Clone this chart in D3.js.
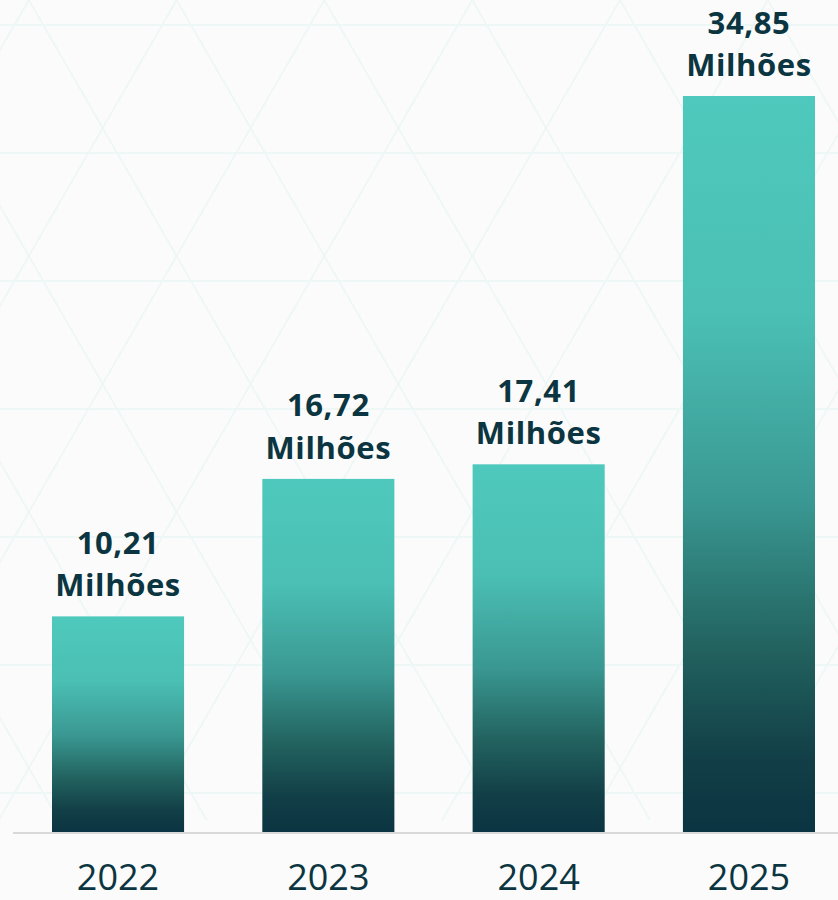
<!DOCTYPE html>
<html>
<head>
<meta charset="utf-8">
<script src="https://cdn.jsdelivr.net/npm/d3@7"></script>
<style>
  html, body { margin: 0; padding: 0; background: #fbfbfb; }
  svg { display: block; }
</style>
</head>
<body>
<svg id="chart" width="838" height="900"></svg>
<script>
const years = ["2022", "2023", "2024", "2025"];
const values = [10.21, 16.72, 17.41, 34.85];
const valueLabels = ["10,21", "16,72", "17,41", "34,85"];
const unitLabel = "Milhões";

const W = 838, H = 900;
const svg = d3.select("#chart");

// background
svg.append("rect").attr("width", W).attr("height", H).attr("fill", "#fbfbfb");

// faint triangular decorative pattern
const deco = svg.append("g").attr("stroke", "#edf7f5").attr("stroke-width", 1.8).attr("fill", "none");
const rowH = 128;
const side = rowH / (Math.sqrt(3) / 2);
for (let y = 25; y < 820; y += rowH) {
  deco.append("line").attr("x1", 0).attr("x2", W).attr("y1", y).attr("y2", y);
}
const k = Math.tan(Math.PI / 6);
for (let x0 = -H; x0 < W + H; x0 += side) {
  const xs = x0 + 42;
  deco.append("line").attr("x1", xs).attr("y1", 0).attr("x2", xs + 820 * k).attr("y2", 820);
  deco.append("line").attr("x1", xs).attr("y1", 0).attr("x2", xs - 820 * k).attr("y2", 820);
}

const x = d3.scaleBand().domain(years).range([52, 815]).paddingInner(0.372).paddingOuter(0);
const y = d3.scaleLinear().domain([0, 34.85]).range([832, 96]);

// gradient
const defs = svg.append("defs");
const grad = defs.append("linearGradient").attr("id", "barGrad")
  .attr("x1", 0).attr("y1", 0).attr("x2", 0).attr("y2", 1);
[[0, "#4fc9bd"], [0.3, "#4bbfb4"], [0.55, "#3a9892"], [0.75, "#22625f"], [0.9, "#123f47"], [1, "#0a3441"]]
  .forEach(([o, c]) => grad.append("stop").attr("offset", o).attr("stop-color", c));

const data = years.map((yr, i) => ({ year: yr, value: values[i], label: valueLabels[i] }));

svg.append("g").selectAll("rect").data(data).join("rect")
  .attr("x", d => x(d.year))
  .attr("width", x.bandwidth())
  .attr("y", d => y(d.value))
  .attr("height", d => y(0) - y(d.value))
  .attr("fill", "url(#barGrad)");

// baseline
svg.append("line").attr("x1", 13).attr("x2", W).attr("y1", 833).attr("y2", 833)
  .attr("stroke", "#d9d9d9").attr("stroke-width", 2);

// value labels
const lab = svg.append("g").attr("font-family", "'Open Sans', sans-serif")
  .attr("font-weight", 700).attr("font-size", 31).attr("letter-spacing", 0.6)
  .attr("fill", "#0b3540").attr("text-anchor", "middle");
lab.selectAll("text.v").data(data).join("text").attr("class", "v")
  .attr("x", d => x(d.year) + x.bandwidth() / 2)
  .attr("y", d => y(d.value) - 62.5)
  .text(d => d.label);
lab.selectAll("text.u").data(data).join("text").attr("class", "u")
  .attr("x", d => x(d.year) + x.bandwidth() / 2)
  .attr("y", d => y(d.value) - 20)
  .text(unitLabel);

// x axis labels
const xAxis = d3.axisBottom(x).tickSize(0).tickPadding(0);
const ax = svg.append("g").attr("transform", "translate(0,890)").call(xAxis);
ax.select(".domain").remove();
ax.selectAll("text").attr("font-family", "'Open Sans', sans-serif")
  .attr("font-size", 36).attr("fill", "#0b3540").attr("dy", "0");
</script>
</body>
</html>
